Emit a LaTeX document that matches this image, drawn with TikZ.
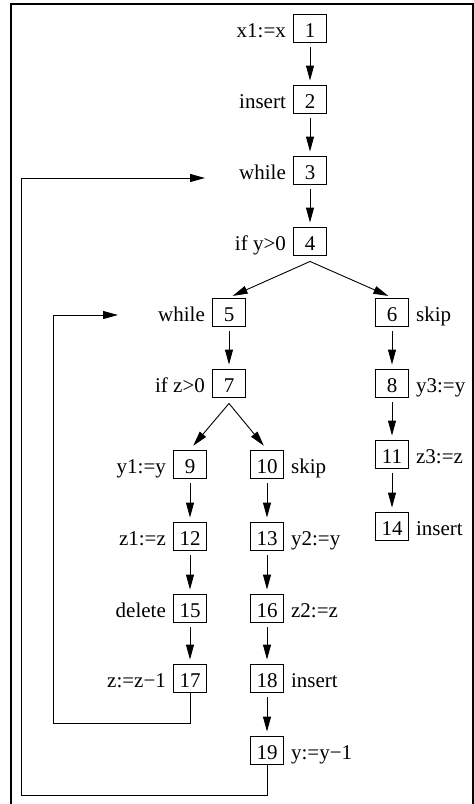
\documentclass[tikz,border=0pt]{standalone}
\usepackage{fontspec}
\setmainfont{Liberation Serif}
\usetikzlibrary{positioning,arrows.meta}
\tikzset{
 blk/.style={draw, line width=0.9pt, minimum width=33pt, minimum height=28pt, inner sep=0pt,
  text height=22pt, text depth=4pt, font=\fontsize{21}{25}\selectfont},
 lbl/.style={inner xsep=1pt, inner ysep=0pt, minimum height=28pt,
  text height=22pt, text depth=4pt, font=\fontsize{21}{25}\selectfont},
 flow/.style={->, line width=0.9pt, shorten <=5pt, shorten >=4pt},
}
\begin{document}
\begin{tikzpicture}[x=1pt, y=-1pt, >={Triangle[length=15pt,width=8pt]}]
 \useasboundingbox (0,0) rectangle (474,804);
 \draw[line width=2pt] (11,4) rectangle (473,806);
 \foreach \n/\px/\py/\side/\txt in {1/310/28/left/x1:=x, 2/310/99/left/insert, 3/310/170/left/while,
   4/310/241/left/if y>0, 5/229/312/left/while, 6/392/312/right/skip, 7/229/383/left/if z>0,
   8/392/383/right/y3:=y, 9/190/464/left/y1:=y, 10/267/464/right/skip, 11/392/454/right/z3:=z,
   12/190/536/left/z1:=z, 13/267/536/right/y2:=y, 14/392/526/right/insert, 15/190/608/left/delete,
   16/267/608/right/z2:=z, 17/190/678/left/z:=z−1, 18/267/678/right/insert, 19/267/750/right/y:=y−1}
 {
  \node[blk] (n\n) at (\px,\py) {\n};
  \node[lbl, \side=6pt of n\n] (t\n) {\txt};
 }
 \foreach \a/\b in {1/2, 2/3, 3/4, 5/7, 6/8, 8/11, 11/14, 9/12, 12/15, 15/17, 10/13, 13/16, 16/18, 18/19}
  \draw[flow] (n\a) -- (n\b);
 \coordinate (f4) at ([yshift=-6pt]n4.south);
 \coordinate (f7) at ([yshift=-6pt]n7.south);
 \draw[flow, shorten <=0pt] (f4) -- (n5.north);
 \draw[flow, shorten <=0pt] (f4) -- (n6.north);
 \draw[flow, shorten <=0pt, shorten >=5pt] (f7) -- (n9.north);
 \draw[flow, shorten <=0pt, shorten >=5pt] (f7) -- (n10.north);
 \coordinate (w3) at (205,178);
 \coordinate (w5) at (118,315);
 \draw[->, line width=0.9pt] (n19.south) -- ++(0,31) -| (21,178) -- (w3);
 \draw[->, line width=0.9pt] (n17.south) -- ++(0,31) -| (53,315) -- (w5);
\end{tikzpicture}
\end{document}
